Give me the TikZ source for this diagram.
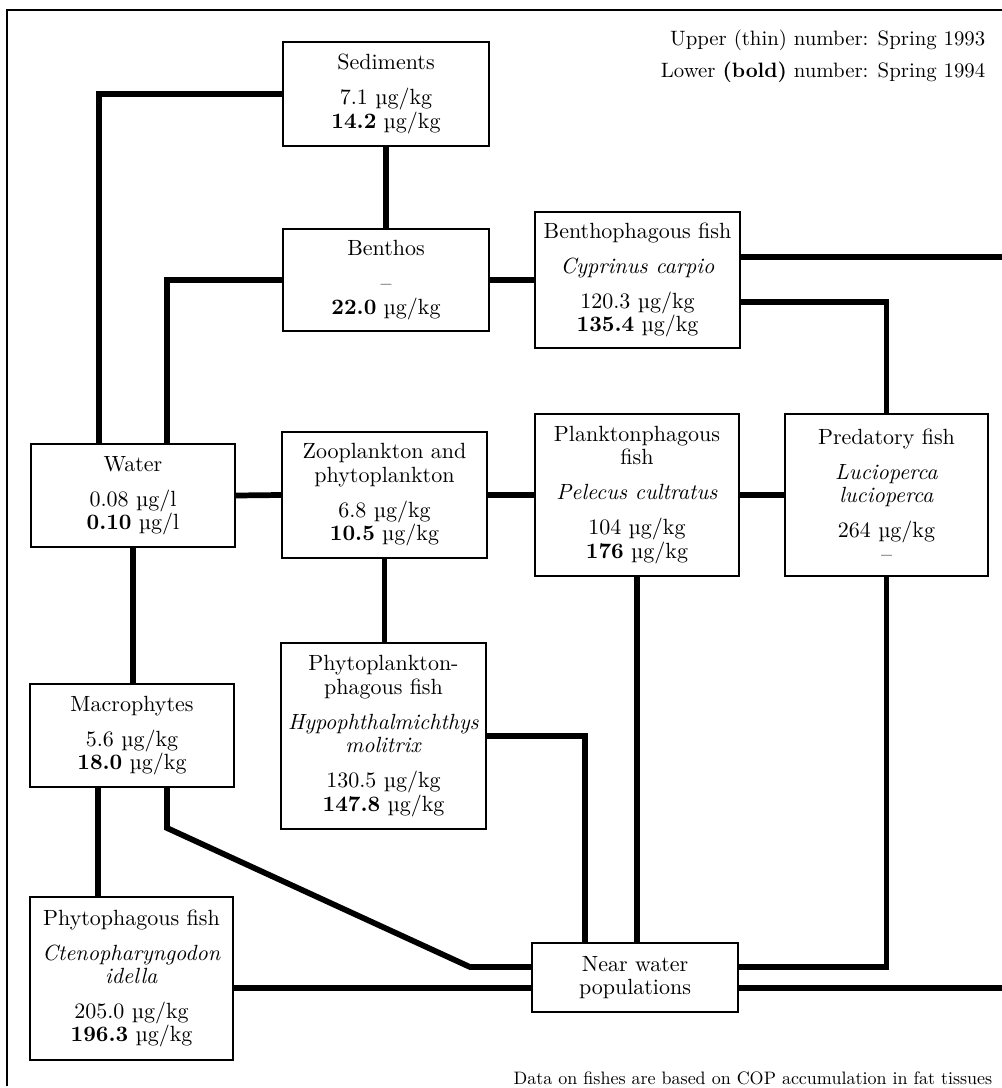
\documentclass[tikz,border=0pt]{standalone}
\usepackage{fontspec}
\setmainfont{lmroman10-regular.otf}[
  BoldFont=lmroman10-bold.otf,
  ItalicFont=lmroman10-italic.otf,
  BoldItalicFont=lmroman10-bolditalic.otf]
\usetikzlibrary{calc}
\newcommand\ugkg{µg/kg}
\newcommand\gap{\\[8.6pt]}
\tikzset{
  box/.style={draw, line width=1.5pt, fill=white, inner sep=0pt, align=center,
    font=\fontsize{16.5}{17.6}\selectfont},
  legend/.style={anchor=east, font=\fontsize{15.6}{17}\selectfont},
  link/.style={line width=4.3pt, line join=miter},
  frame/.style={line width=2pt}
}
\begin{document}
\begin{tikzpicture}[x=0.75pt, y=-0.75pt]
\useasboundingbox (0,0) rectangle (1002,1088);

% outer frame (open on the right and bottom)
\draw[frame] (1002,10) -- (7,10) -- (7,1086);

% legend
\node[legend] (leg1) at (990,40) {Upper (thin) number: Spring 1993};
\node[legend] (leg2) at (990,72) {Lower \textbf{(bold)} number: Spring 1994};

% compartments
\node[box, minimum width=206*0.75pt, minimum height=104*0.75pt] (sed) at (386,94)
  {Sediments\gap 7.1 \ugkg\\ \textbf{14.2} \ugkg};
\node[box, minimum width=206*0.75pt, minimum height=102*0.75pt] (ben) at (386,280)
  {Benthos\gap –\\ \textbf{22.0} \ugkg};
\node[box, minimum width=205*0.75pt, minimum height=136*0.75pt] (bfish) at (637.5,280)
  {Benthophagous fish\gap \textit{Cyprinus carpio}\gap 120.3 \ugkg\\ \textbf{135.4} \ugkg};
\node[box, minimum width=204*0.75pt, minimum height=103*0.75pt] (water) at (133,495.5)
  {Water\gap 0.08 µg/l\\ \textbf{0.10} µg/l};
\node[box, minimum width=205*0.75pt, minimum height=126*0.75pt] (zoo) at (384.5,495)
  {Zooplankton and\\ phytoplankton\gap 6.8 \ugkg\\ \textbf{10.5} \ugkg};
\node[box, minimum width=204*0.75pt, minimum height=162*0.75pt] (plank) at (637,495)
  {Planktonphagous\\ fish\gap \textit{Pelecus cultratus}\gap 104 \ugkg\\ \textbf{176} \ugkg};
\node[box, minimum width=203*0.75pt, minimum height=162*0.75pt] (pred) at (886.5,495)
  {Predatory fish\gap \textit{Lucioperca}\\ \textit{lucioperca}\gap 264 \ugkg\\ –};
\node[box, minimum width=205*0.75pt, minimum height=186*0.75pt] (phyto) at (383.5,736)
  {Phytoplankton-\\ phagous fish\gap \textit{Hypophthalmichthys}\\ \textit{molitrix}\gap 130.5 \ugkg\\ \textbf{147.8} \ugkg};
\node[box, minimum width=204*0.75pt, minimum height=103*0.75pt] (macro) at (132,735.5)
  {Macrophytes\gap 5.6 \ugkg\\ \textbf{18.0} \ugkg};
\node[box, minimum width=203*0.75pt, minimum height=163*0.75pt] (phfish) at (131.5,978.5)
  {Phytophagous fish\gap \textit{Ctenopharyngodon}\\ \textit{idella}\gap 205.0 \ugkg\\ \textbf{196.3} \ugkg};
\node[box, minimum width=206*0.75pt, minimum height=69*0.75pt] (near) at (635,977.5)
  {Near water\\ populations};

% free ends at the right margin
\coordinate (outA) at (1002,257);
\coordinate (outB) at (1002,988);

% connectors
\draw[link] (sed.west) -| ($(water.north)+(-34,0)$);
\draw[link] (sed.south) -- (ben.north);
\draw[link] (ben.west) -| ($(water.north)+(34,0)$);
\draw[link] (ben.east) -- (bfish.west);
\draw[link] (bfish.east |- outA) -- (outA);
\draw[link] ($(bfish.east)+(0,22)$) -| (pred.north);
\draw[link] (water.east) -- (zoo.west);
\draw[link] (zoo.east) -- (plank.west);
\draw[link] (plank.east) -- (pred.west);
\draw[link] (water.south) -- (water.south |- macro.north);
\draw[link] (zoo.south) -- (zoo.south |- phyto.north);
\draw[link] (phyto.east) -| ($(near.north)+(-50,0)$);
\draw[link] (plank.south) -- (plank.south |- near.north);
\draw[link] (pred.south) |- ($(near.east)+(0,-10.5)$);
\draw[link] ($(macro.south)+(-34,0)$) -- ($(macro.south |- phfish.north)+(-34,0)$);
\draw[link] ($(macro.south)+(35,0)$) -- ++(0,40) -- (470,967) -- ($(near.west)+(0,-10.5)$);
\draw[link] ($(phfish.east)+(0,9.5)$) -- ($(near.west)+(0,10.5)$);
\draw[link] ($(near.east)+(0,10.5)$) -- (outB);

% footnote
\node[anchor=east, font=\fontsize{13.5}{15}\selectfont] (foot) at (997,1078)
  {Data on fishes are based on COP accumulation in fat tissues};
\end{tikzpicture}
\end{document}
